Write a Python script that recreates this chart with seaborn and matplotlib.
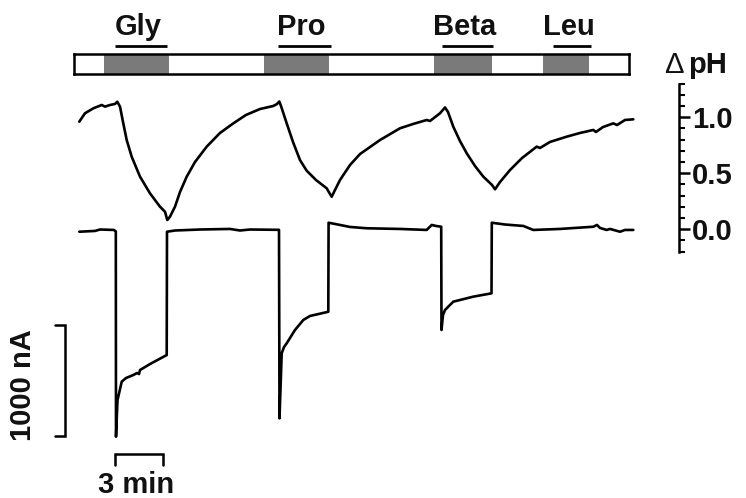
import matplotlib
matplotlib.use("Agg")
import matplotlib.pyplot as plt
from matplotlib.ticker import FixedLocator, FormatStrFormatter
import numpy as np
import pandas as pd
import seaborn as sns

# ---------------- data ----------------
# intracellular pH trace (top): time in min, delta pH
ph_time = [0.000, 0.358, 0.881, 1.409, 1.616, 1.931, 2.245, 2.390, 2.560, 2.767,
           2.981, 3.296, 3.818, 4.447, 5.075, 5.390, 5.535, 5.704, 6.019, 6.333,
           6.755, 7.277, 8.013, 8.849, 9.686, 10.484, 11.365, 12.201, 12.434, 12.579,
           12.686, 13.044, 13.440, 13.881, 14.302, 14.887, 15.560, 15.767, 15.874, 16.019,
           16.396, 17.025, 17.654, 18.912, 20.170, 20.987, 21.849, 22.057, 22.686, 23.000,
           23.189, 23.522, 23.943, 24.365, 24.887, 25.409, 25.956, 26.145, 26.459, 27.088,
           27.843, 28.767, 28.975, 29.604, 30.654, 31.491, 32.327, 32.497, 32.937, 33.585,
           33.818, 34.321, 34.843]
ph_value = [0.961, 1.036, 1.080, 1.110, 1.095, 1.110, 1.119, 1.139, 1.095, 0.946,
            0.797, 0.648, 0.470, 0.321, 0.202, 0.157, 0.083, 0.113, 0.202, 0.333,
            0.470, 0.601, 0.738, 0.860, 0.946, 1.021, 1.074, 1.101, 1.119, 1.141,
            1.101, 0.946, 0.780, 0.618, 0.523, 0.440, 0.366, 0.315, 0.291, 0.333,
            0.440, 0.574, 0.672, 0.797, 0.902, 0.940, 0.976, 0.967, 1.036, 1.088,
            1.047, 0.916, 0.788, 0.679, 0.565, 0.470, 0.396, 0.357, 0.422, 0.529,
            0.636, 0.738, 0.726, 0.780, 0.827, 0.860, 0.887, 0.869, 0.913, 0.946,
            0.931, 0.976, 0.982]

# membrane current trace (bottom): time in min, current in nA
cur_time = [0.000, 0.987, 1.302, 2.182, 2.296, 2.308, 2.403, 2.453, 2.667, 2.937,
            3.396, 3.629, 3.755, 3.818, 4.447, 5.497, 5.516, 6.019, 7.591, 9.478,
            10.107, 10.736, 12.560, 12.591, 12.730, 12.874, 13.044, 13.566, 14.088, 14.509,
            15.660, 15.679, 16.082, 17.025, 18.075, 20.170, 21.849, 22.164, 22.434, 22.761,
            22.780, 22.874, 23.000, 23.522, 24.780, 25.925, 25.943, 26.774, 27.925, 28.553,
            30.233, 32.327, 32.560, 32.748, 33.170, 33.377, 34.006, 34.321, 34.843]
cur_value = [-2, 5, 18, 14, 0, -1849, -1518, -1488, -1353, -1320,
             -1293, -1275, -1284, -1248, -1194, -1113, -2, 9, 18, 23,
             9, 18, 15, -1683, -1097, -1041, -1007, -887, -797, -761,
             -723, 79, 68, 41, 29, 23, 14, 59, 50, 43,
             -887, -752, -707, -632, -587, -557, 79, 63, 50, 14,
             23, 43, 59, 32, 14, 23, -2, 14, 14]

# substrate applications (min)
agonists = ["Gly", "Pro", "Beta", "Leu"]
app_start = [1.55, 11.62, 22.31, 29.18]
app_end = [5.66, 15.72, 25.94, 32.08]
label_start = [2.25, 12.50, 22.81, 29.79]
label_end = [5.52, 15.83, 26.02, 32.18]

ph_ticks = [0.0, 0.5, 1.0]
ph_minor_ticks = [-0.2, -0.1, 0.1, 0.2, 0.3, 0.4, 0.6, 0.7, 0.8, 0.9, 1.1, 1.2, 1.3]
time_bar_len = 3      # min
cur_bar_len = 1000    # nA

# ---------------- layout (pixel mapping) ----------------
W, H = 746, 498
X0, PXM = 79.3, 15.9          # pixel x of t=0, pixels per minute
PH0_Y, PX_PER_PH = 229.3, 112.0
I0_Y, PX_PER_NA = 231.5, 0.111

def px2t(x):
    return (x - X0) / PXM

def py2ph(y):
    return (PH0_Y - y) / PX_PER_PH

def py2i(y):
    return -(y - I0_Y) / PX_PER_NA

sns.set_theme(style="white")
plt.rcParams["font.family"] = ["Liberation Sans", "DejaVu Sans"]
plt.rcParams["text.color"] = "#111111"
FS = 21

fig = plt.figure(figsize=(W / 100, H / 100), dpi=100)
fig.patch.set_facecolor("white")

ax_ph = fig.add_axes([0, 0, 1, 1])
ax_i = fig.add_axes([0, 0, 1, 1])
for a in (ax_ph, ax_i):
    a.set_xlim(px2t(0), px2t(W))
    a.patch.set_alpha(0)
ax_ph.set_ylim(py2ph(H), py2ph(0))
ax_i.set_ylim(py2i(H), py2i(0))

df_ph = pd.DataFrame({"t": ph_time, "pH": ph_value})
df_i = pd.DataFrame({"t": cur_time, "I": cur_value})
sns.lineplot(data=df_ph, x="t", y="pH", ax=ax_ph, color="black", lw=1.9,
             sort=False, estimator=None)
sns.lineplot(data=df_i, x="t", y="I", ax=ax_i, color="black", lw=1.9,
             sort=False, estimator=None)

# current axes: no frame
ax_i.axis("off")

# pH axis as a free-standing right spine
for s in ("top", "left", "bottom"):
    ax_ph.spines[s].set_visible(False)
ax_ph.spines["right"].set_position(("data", px2t(679.3)))
ax_ph.spines["right"].set_bounds(-0.2, 1.3)
ax_ph.spines["right"].set_linewidth(1.8)
ax_ph.spines["right"].set_color("black")
ax_ph.set_xticks([])
ax_ph.set_xlabel("")
ax_ph.set_ylabel("")
ax_ph.yaxis.tick_right()
ax_ph.yaxis.set_major_locator(FixedLocator(ph_ticks))
ax_ph.yaxis.set_minor_locator(FixedLocator(ph_minor_ticks))
ax_ph.yaxis.set_major_formatter(FormatStrFormatter("%.1f"))
ax_ph.tick_params(axis="y", which="major", direction="out", length=8, width=1.8,
                  pad=1, labelsize=FS, colors="black", labelcolor="#111111")
ax_ph.tick_params(axis="y", which="minor", direction="out", length=4.5, width=1.5,
                  colors="black")
for lab in ax_ph.get_yticklabels():
    lab.set_fontweight("bold")
ax_ph.text(px2t(674), py2ph(73), "Δ", ha="center", va="baseline",
           fontsize=FS, fontweight="normal")
ax_ph.text(px2t(708), py2ph(73), "pH", ha="center", va="baseline",
           fontsize=FS, fontweight="bold")

# scale bars
t_bar0 = px2t(115)
ax_i.plot([t_bar0, t_bar0, t_bar0 + time_bar_len, t_bar0 + time_bar_len],
          [py2i(465), py2i(454), py2i(454), py2i(465)], color="black", lw=1.8,
          solid_joinstyle="miter")
ax_i.text(t_bar0 + time_bar_len / 2 - 0.2, py2i(493), f"{time_bar_len} min",
          ha="center", va="baseline", fontsize=FS, fontweight="bold")
i_top = py2i(325)
ax_i.plot([px2t(55), px2t(65), px2t(65), px2t(55)],
          [i_top, i_top, i_top - cur_bar_len, i_top - cur_bar_len], color="black",
          lw=1.8, solid_joinstyle="miter")
ax_i.text(px2t(23), i_top - cur_bar_len / 2 - 40, f"{cur_bar_len} nA", rotation=90,
          ha="center", va="center", fontsize=FS, fontweight="bold")

# stimulus bar
left_px, right_px, top_px, bot_px = 74, 629, 54, 74
ax_s = fig.add_axes([left_px / W, 1 - bot_px / H, (right_px - left_px) / W,
                     (bot_px - top_px) / H])
ax_s.set_xlim(px2t(left_px), px2t(right_px))
ax_s.set_ylim(0, 1)
ax_s.set_xticks([])
ax_s.set_yticks([])
for s in ax_s.spines.values():
    s.set_visible(True)
    s.set_linewidth(1.8)
    s.set_color("black")
ax_s.set_facecolor("white")
for a0, a1 in zip(app_start, app_end):
    ax_s.axvspan(a0, a1, color="#7a7a7a", lw=0)
for name, l0, l1 in zip(agonists, label_start, label_end):
    ax_s.plot([l0, l1], [(bot_px - 45.7) / (bot_px - top_px)] * 2, color="black",
              lw=2, clip_on=False, solid_capstyle="butt")
    ax_s.text((l0 + l1) / 2 - 0.2, (bot_px - 35) / (bot_px - top_px), name,
              ha="center", va="baseline", fontsize=FS, fontweight="bold",
              clip_on=False)

fig.savefig("out.png", dpi=100, facecolor="white")
